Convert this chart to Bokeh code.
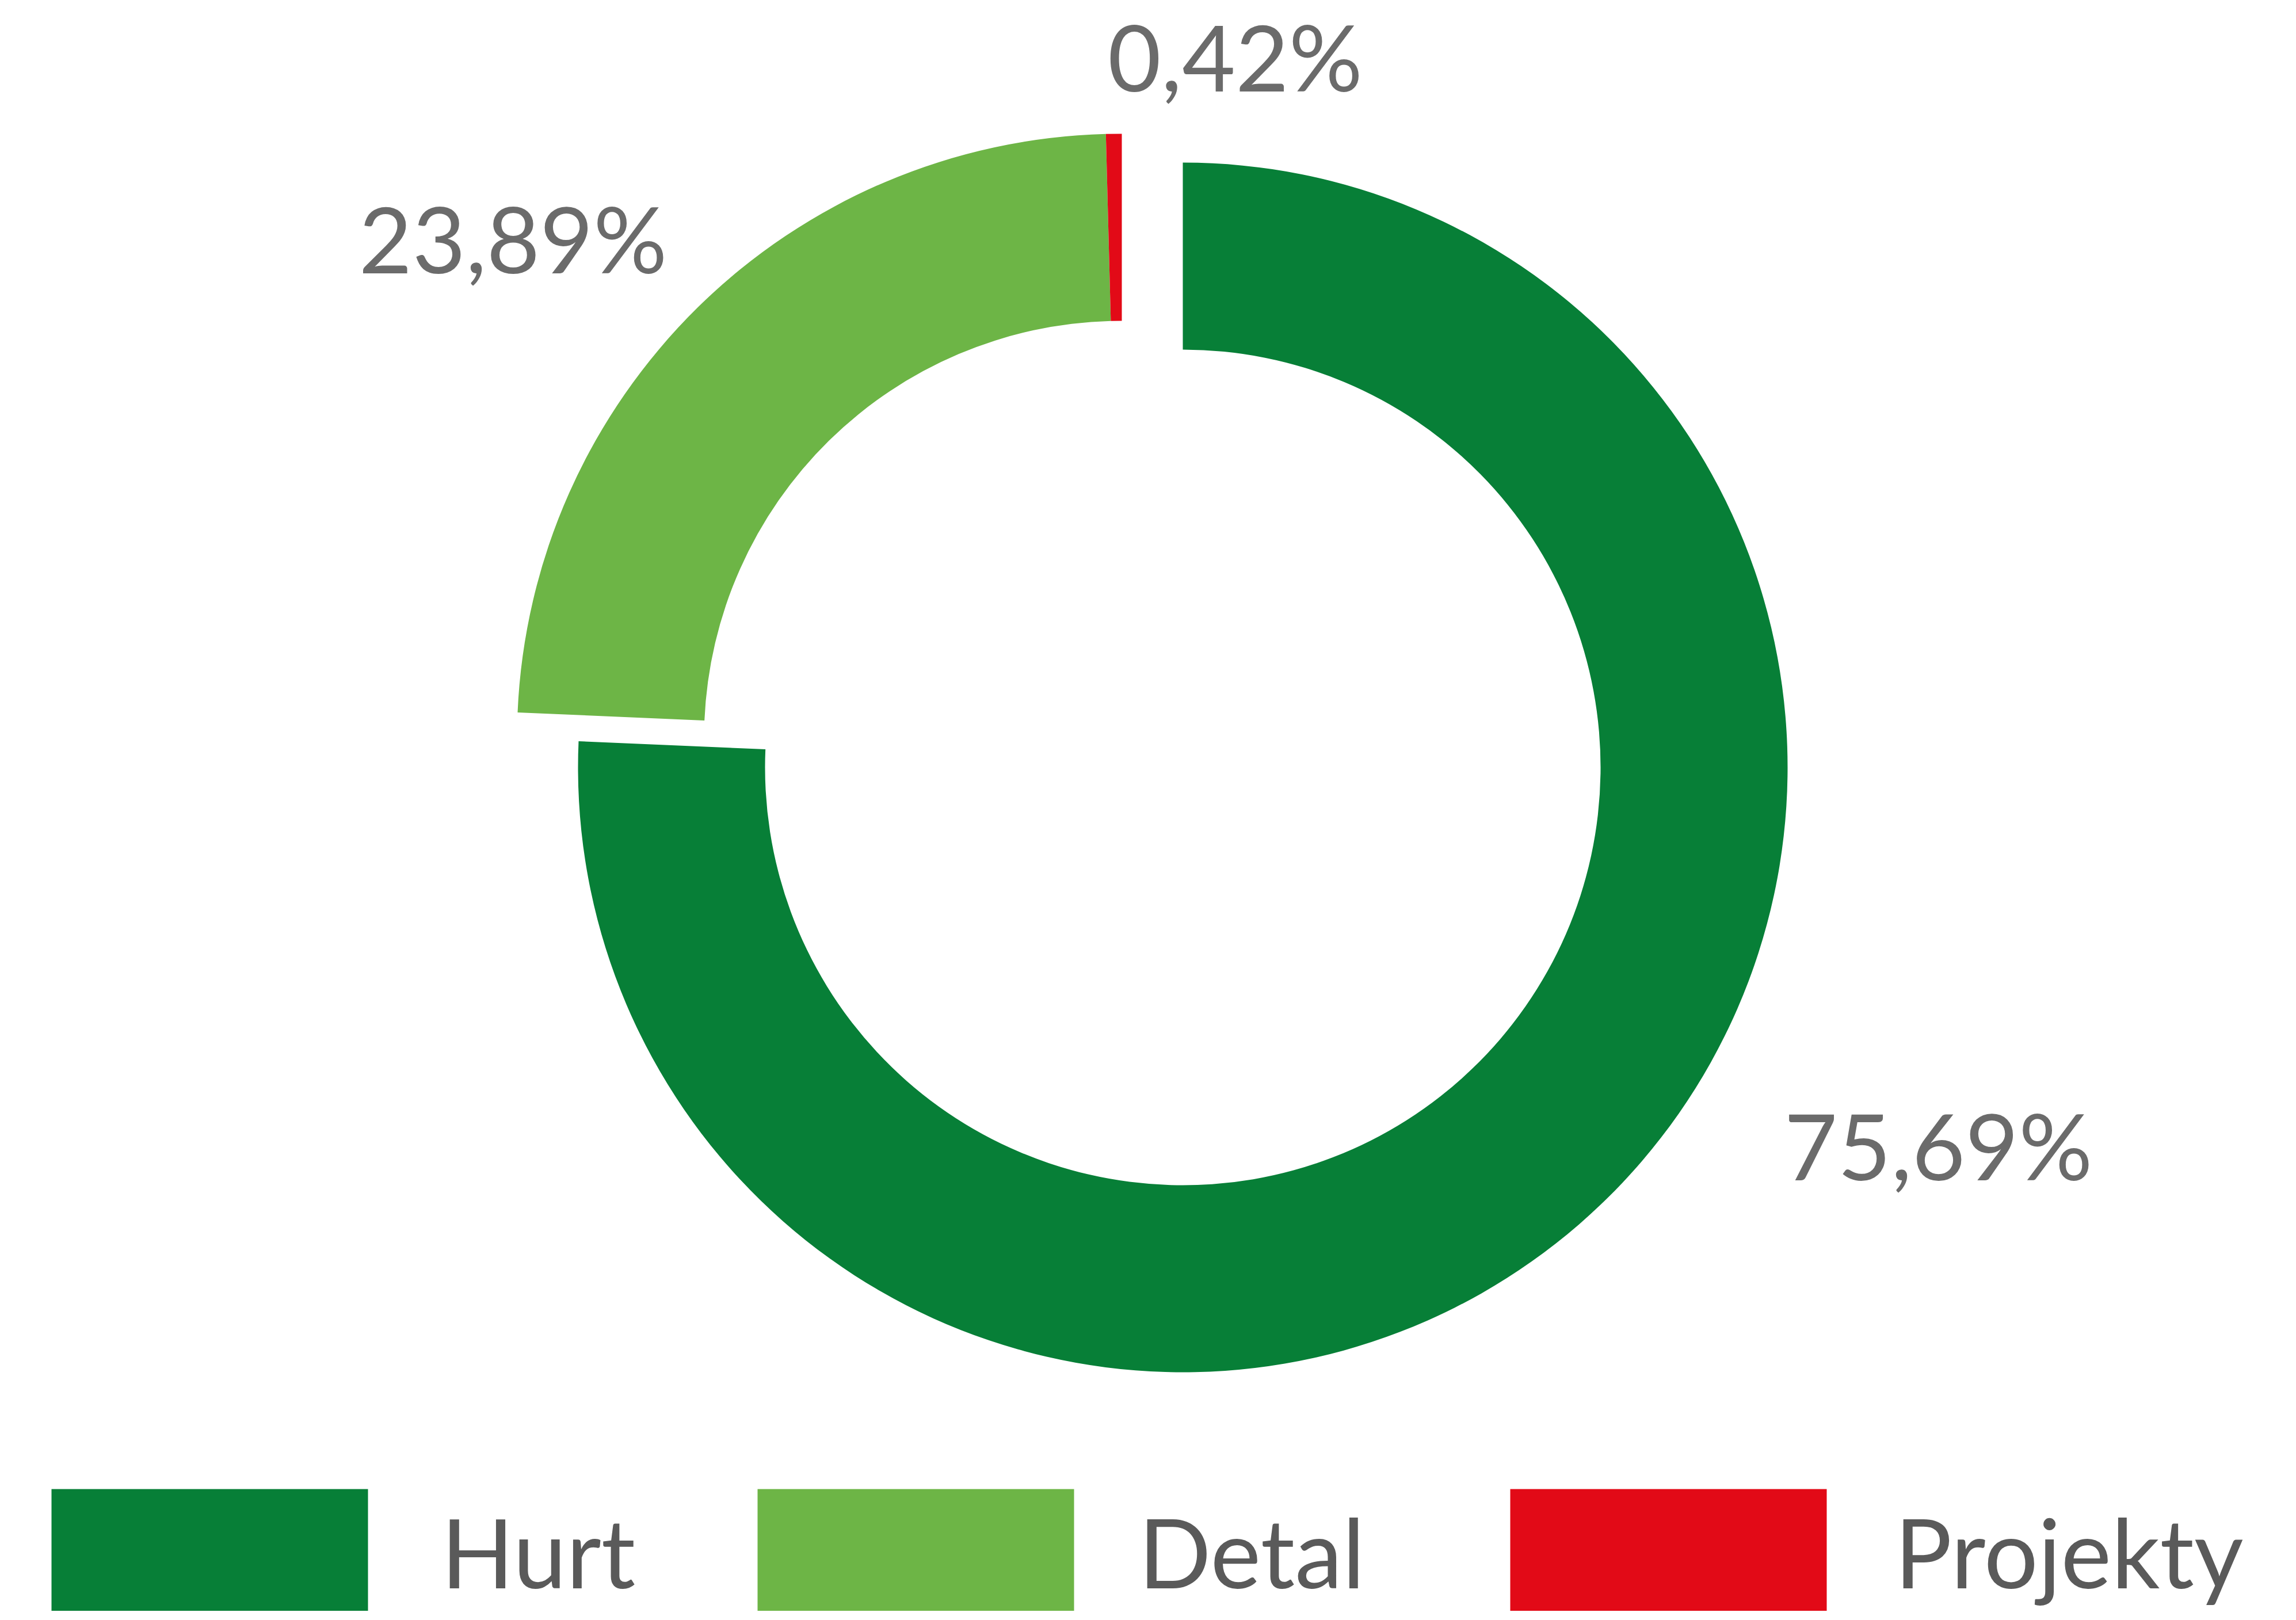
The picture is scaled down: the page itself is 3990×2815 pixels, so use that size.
import numpy as np
from bokeh.plotting import figure
from bokeh.models import Range1d, ColumnDataSource
from bokeh.core.properties import value
from bokeh.embed import file_html
from bokeh.resources import INLINE

# ---- data ----
categories = ["Hurt", "Detal", "Projekty"]
shares = [75.69, 23.89, 0.42]
share_labels = ["75,69%", "23,89%", "0,42%"]
colors = ["#077F37", "#6DB546", "#E20A17"]

# ---- layout (reference pixel coordinates, y measured downwards) ----
PLOT_W, PLOT_H = 3974, 2799
REF_H = 2815
center = (2002.0, 1308.0)
explode = [(53.0, 25.0), (-53.0, -25.0), (-53.0, -25.0)]
outer_r, inner_r = 1051, 726
LABEL_SIZE = 160
label_pos = [(3368, 2049), (891, 473), (2146, 157)]   # text centre x, baseline y
legend_rect_x = [89, 1316, 2624]
legend_rect_w = 550
legend_rect_top, legend_rect_bottom = 2587, 2900
LEGEND_SIZE = 166
legend_text_x = [766, 1978, 3292]
legend_text_base = 2758
BASE_FIX = 0.38   # renderer places the alphabetic baseline this many em lower

FONT = "Lato"

p = figure(width=PLOT_W, height=PLOT_H,
           x_range=Range1d(0, PLOT_W), y_range=Range1d(REF_H - PLOT_H, REF_H),
           output_backend="svg", toolbar_location=None, min_border=0,
           x_axis_type=None, y_axis_type=None)
p.outline_line_color = None
p.grid.visible = False
p.background_fill_color = "white"

frac = np.array(shares) / np.sum(shares)
cum = np.cumsum(frac)
prev = np.concatenate([[0.0], cum[:-1]])
start = np.pi / 2 - 2 * np.pi * prev
end = np.pi / 2 - 2 * np.pi * cum

src = ColumnDataSource(dict(
    x=[center[0] + dx for dx, dy in explode],
    y=[REF_H - (center[1] + dy) for dx, dy in explode],
    start=start, end=end, color=colors, cat=categories,
))
p.annular_wedge(x="x", y="y", inner_radius=inner_r, outer_radius=outer_r,
                start_angle="start", end_angle="end", direction="clock",
                fill_color="color", line_color=None, source=src)

lab = ColumnDataSource(dict(
    x=[lx for lx, ly in label_pos],
    y=[REF_H - (ly - BASE_FIX * LABEL_SIZE) for lx, ly in label_pos],
    text=share_labels,
))
p.text(x="x", y="y", text="text", source=lab, text_font=value(FONT),
       text_font_size=f"{LABEL_SIZE}px", text_color="#6B6B6B", text_align="center",
       text_baseline="alphabetic")

leg = ColumnDataSource(dict(
    left=legend_rect_x,
    right=[x + legend_rect_w for x in legend_rect_x],
    top=[REF_H - legend_rect_top] * 3,
    bottom=[REF_H - legend_rect_bottom] * 3,
    color=colors,
    tx=legend_text_x,
    ty=[REF_H - (legend_text_base - BASE_FIX * LEGEND_SIZE)] * 3,
    text=categories,
))
p.quad(left="left", right="right", top="top", bottom="bottom", fill_color="color",
       line_color=None, source=leg)
p.text(x="tx", y="ty", text="text", source=leg, text_font=value(FONT),
       text_font_size=f"{LEGEND_SIZE}px", text_color="#5A5A5A", text_align="left",
       text_baseline="alphabetic")

open("out.html", "w").write(file_html(p, INLINE))
